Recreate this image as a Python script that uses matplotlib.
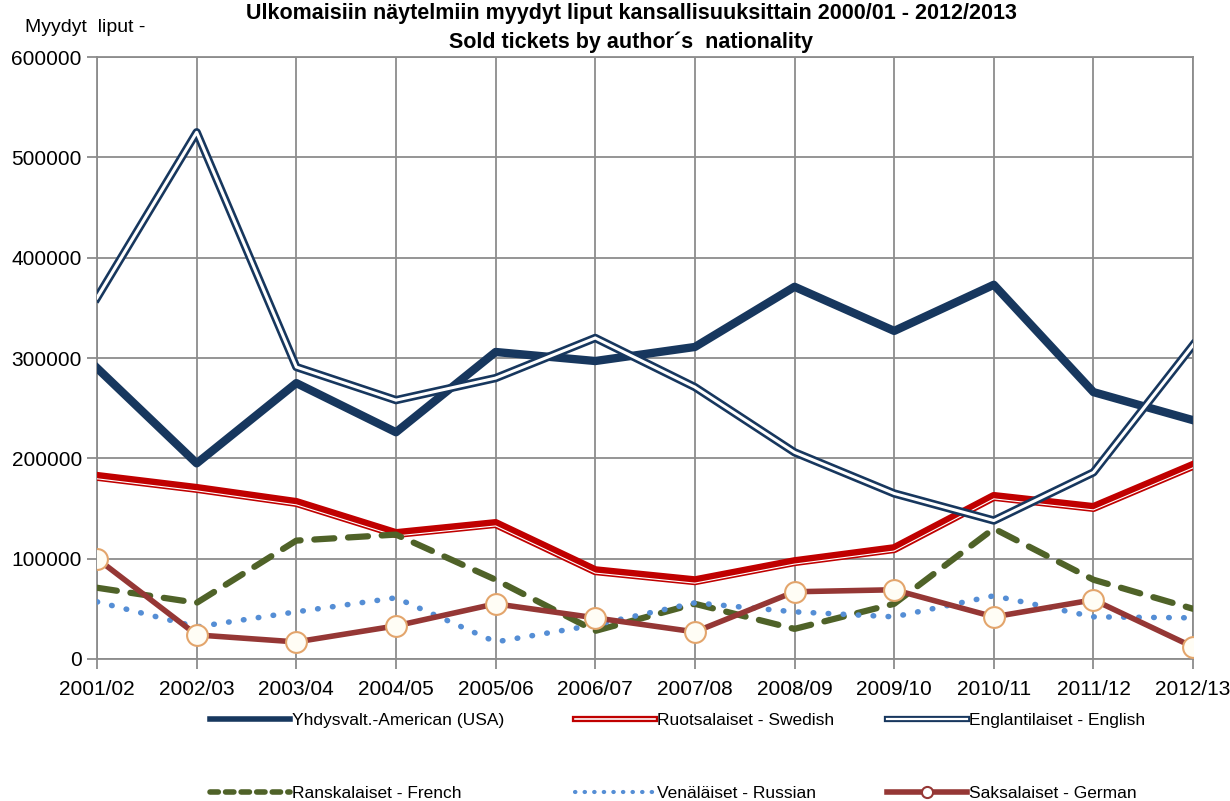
import matplotlib
matplotlib.use("Agg")
from matplotlib import pyplot as plt
from matplotlib import transforms
from matplotlib.lines import Line2D
from matplotlib.legend_handler import HandlerTuple

plt.rcParams['font.family'] = ['Liberation Sans', 'DejaVu Sans']

seasons = ["2001/02", "2002/03", "2003/04", "2004/05", "2005/06", "2006/07",
           "2007/08", "2008/09", "2009/10", "2010/11", "2011/12", "2012/13"]

usa = [290000, 195000, 275000, 226000, 306000, 297000, 311000, 371000, 327000, 373000, 266000, 238000]
swedish = [182000, 170000, 156000, 125000, 135000, 88000, 78000, 97000, 110000, 162000, 151000, 193000]
english = [360000, 525000, 291000, 258000, 280000, 320000, 271000, 206000, 165000, 138000, 186000, 313000]
french = [71000, 56000, 118000, 124000, 79000, 28000, 55000, 30000, 55000, 130000, 79000, 50000]
russian = [57000, 32000, 47000, 61000, 17000, 34000, 56000, 47000, 42000, 63000, 42000, 41000]
german = [100000, 24000, 17000, 33000, 55000, 41000, 27000, 67000, 69000, 42000, 59000, 12000]

labels = ["Yhdysvalt.-American (USA)", "Ruotsalaiset - Swedish", "Englantilaiset - English",
          "Ranskalaiset - French", "Venäläiset - Russian", "Saksalaiset - German"]

yticks = [0, 100000, 200000, 300000, 400000, 500000, 600000]

navy = "#17375E"
red = "#C00000"
olive = "#4F6228"
blue = "#558ED5"
brown = "#953735"
grid_c = "#8C8C8C"

fig = plt.figure(figsize=(12.3, 8.01), dpi=100)
ax = fig.add_axes([0.0789, 0.1773, 0.8911, 0.7515])

x = list(range(len(seasons)))

# USA
ax.plot(x, usa, color=navy, lw=6, zorder=3)
# Swedish: red line with thin white stripe near lower edge
ax.plot(x, swedish, color=red, lw=6.5, zorder=3)
low = transforms.offset_copy(ax.transData, fig=fig, x=0, y=-2.4, units='dots')
ax.plot(x, swedish, color="white", lw=0.8, transform=low, zorder=3)
# English: navy double line
ax.plot(x, english, color=navy, lw=6, zorder=3)
ax.plot(x, english, color="white", lw=2.2, zorder=3)
# French dashed
ax.plot(x, french, color=olive, lw=4.5, linestyle=(0, (3.2, 2.2)),
        dash_capstyle='round', zorder=4)
# Russian dotted
ax.plot(x, russian, color=blue, lw=4, linestyle=(0, (0.1, 2.6)),
        dash_capstyle='round', zorder=4)
# German with markers
ax.plot(x, german, color=brown, lw=4, marker='o', markersize=15,
        markerfacecolor="#FFFDF5", markeredgecolor="#E3A56C",
        markeredgewidth=1.5, zorder=5)

ax.set_xlim(0, 11)
ax.set_ylim(0, 600000)
ax.set_xticks(x)
ax.set_xticklabels(seasons, fontsize=15)
ax.set_yticks(yticks)
ax.set_yticklabels([str(v) for v in yticks], fontsize=15)
ax.grid(True, color=grid_c, lw=1.3)
ax.set_axisbelow(True)
for s in ax.spines.values():
    s.set_color(grid_c)
    s.set_linewidth(1.3)
ax.tick_params(axis='both', color=grid_c, width=1.3, length=7)
ax.tick_params(axis='x', pad=8)
ax.tick_params(axis='y', pad=4)

fig.text(0.02, 0.966, "Myydyt  liput -", fontsize=14, ha='left', va='center')
fig.text(0.513, 0.996, "Ulkomaisiin näytelmiin myydyt liput kansallisuuksittain 2000/01 - 2012/2013",
         fontsize=15.5, fontweight='bold', ha='center', va='top')
fig.text(0.513, 0.961, "Sold tickets by author´s  nationality",
         fontsize=15.5, fontweight='bold', ha='center', va='top')

# legend handles
h_usa = Line2D([], [], color=navy, lw=4)
h_swe2 = (Line2D([], [], color=red, lw=4.5), Line2D([], [], color="white", lw=1.2))
h_en2 = (Line2D([], [], color=navy, lw=4.5), Line2D([], [], color="white", lw=1.6))
h_fr = Line2D([], [], color=olive, lw=4, linestyle=(0, (1.5, 1.3)), dash_capstyle='round')
h_ru = Line2D([], [], color=blue, lw=3, linestyle=(0, (0.1, 2.2)), dash_capstyle='round')
h_de = Line2D([], [], color=brown, lw=4, marker='o', markersize=8,
              markerfacecolor="white", markeredgecolor=brown, markeredgewidth=1.5)

handles = [h_usa, h_swe2, h_en2, h_fr, h_ru, h_de]
col_x = [210, 575, 887]
row_y = [720, 793]
for i, (h, lab) in enumerate(zip(handles, labels)):
    px = col_x[i % 3]
    py = row_y[i // 3]
    fig.legend([h], [lab], loc='center left',
               bbox_to_anchor=(px / 1230, 1 - py / 801),
               frameon=False, fontsize=12.5, handlelength=4.6, handletextpad=0.15,
               borderpad=0, borderaxespad=0,
               handler_map={tuple: HandlerTuple(ndivide=1, pad=0)})

fig.savefig("out.png", dpi=100)
